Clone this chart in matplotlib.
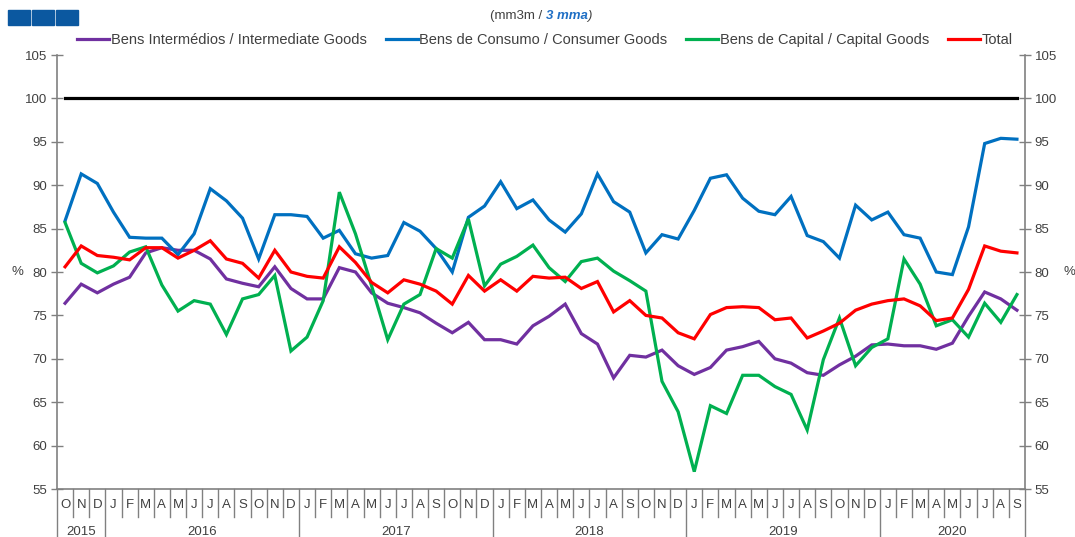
import matplotlib
matplotlib.use('Agg')
import matplotlib.pyplot as plt
from matplotlib.patches import Rectangle
from matplotlib.transforms import blended_transform_factory
import numpy as np

# ---------------- data ----------------
months = (['O', 'N', 'D']
          + ['J', 'F', 'M', 'A', 'M', 'J', 'J', 'A', 'S', 'O', 'N', 'D'] * 4
          + ['J', 'F', 'M', 'A', 'M', 'J', 'J', 'A', 'S'])
years = ['2015', '2016', '2017', '2018', '2019', '2020']
year_counts = [3, 12, 12, 12, 12, 9]

intermediate = [76.4, 78.6, 77.6, 78.6, 79.4, 82.2, 82.8, 82.5, 82.5, 81.5, 79.2, 78.7,
                78.3, 80.6, 78.1, 76.9, 76.9, 80.5,
                80.0, 77.6, 76.4, 75.9, 75.3, 74.1, 73.0, 74.2, 72.2, 72.2, 71.7, 73.8,
                74.9, 76.3, 72.9, 71.7, 67.8, 70.4,
                70.2, 71.0, 69.2, 68.2, 69.0, 71.0, 71.4, 72.0, 70.0, 69.5, 68.4, 68.1,
                69.3, 70.3, 71.6, 71.7, 71.5, 71.5, 71.1, 71.8, 74.9, 77.7, 76.9, 75.6]
consumer = [85.9, 91.3, 90.2, 86.9, 84.0, 83.9, 83.9, 82.0, 84.4, 89.6, 88.2, 86.2,
            81.5, 86.6, 86.6, 86.4, 83.9, 84.8,
            82.1, 81.6, 81.9, 85.7, 84.7, 82.7, 80.0, 86.3, 87.6, 90.4, 87.3, 88.3,
            86.0, 84.6, 86.7, 91.3, 88.1, 86.9,
            82.2, 84.3, 83.8, 87.1, 90.8, 91.2, 88.5, 87.0, 86.6, 88.7, 84.2, 83.5,
            81.6, 87.7, 86.0, 86.9, 84.3, 83.9, 80.0, 79.7, 85.2, 94.8, 95.4, 95.3]
capital = [85.7, 81.0, 79.9, 80.7, 82.3, 82.9, 78.5, 75.5, 76.7, 76.3, 72.8, 76.9,
           77.4, 79.6, 70.9, 72.5, 76.7, 89.2,
           84.4, 78.4, 72.2, 76.3, 77.4, 82.7, 81.6, 86.1, 78.4, 80.9, 81.8, 83.1,
           80.5, 78.9, 81.2, 81.6, 80.1, 79.0,
           77.8, 67.4, 63.9, 57.0, 64.6, 63.7, 68.1, 68.1, 66.8, 65.9, 61.8, 69.9,
           74.7, 69.2, 71.3, 72.3, 81.5, 78.6, 73.8, 74.5, 72.5, 76.4, 74.2, 77.4]
total = [80.6, 83.0, 81.9, 81.7, 81.4, 82.8, 82.8, 81.6, 82.5, 83.6, 81.5, 81.0,
         79.3, 82.5, 80.0, 79.5, 79.3, 82.9,
         81.1, 78.8, 77.6, 79.1, 78.6, 77.8, 76.3, 79.6, 77.8, 79.1, 77.8, 79.5,
         79.3, 79.4, 78.1, 78.9, 75.4, 76.7,
         75.0, 74.7, 73.0, 72.3, 75.1, 75.9, 76.0, 75.9, 74.5, 74.7, 72.4, 73.2,
         74.1, 75.6, 76.3, 76.7, 76.9, 76.1, 74.4, 74.7, 78.0, 83.0, 82.4, 82.2]
reference_level = 100

series_labels = ['Bens Intermédios / Intermediate Goods',
                 'Bens de Consumo / Consumer Goods',
                 'Bens de Capital / Capital Goods',
                 'Total']
series_colors = ['#7030A0', '#0070C0', '#00B050', '#FF0000']
yticks = list(range(55, 106, 5))

# ---------------- figure ----------------
plt.rcParams['font.family'] = ['Liberation Sans', 'DejaVu Sans']
W, H = 1075, 537
fig = plt.figure(figsize=(W / 100, H / 100), dpi=100)
ax = fig.add_axes([57 / W, 48 / H, 968 / W, 434 / H])

x = np.arange(len(months))
handles = []
for data, lab, col in zip([intermediate, consumer, capital, total], series_labels, series_colors):
    h, = ax.plot(x, data, color=col, lw=2.3, label=lab, solid_joinstyle='miter')
    handles.append(h)
ax.plot([x[0], x[-1]], [reference_level, reference_level], color='black', lw=2.3, zorder=1)

ax.set_xlim(-0.5, len(months) - 0.5)
ax.set_ylim(55, 105)
ax.set_yticks(yticks)
ax.tick_params(axis='y', direction='inout', length=8, width=1, color='#808080',
               labelsize=9.5, labelcolor='#404040', left=True, right=True,
               labelleft=True, labelright=True, pad=3)
ax.set_xticks([])
ax.spines['top'].set_visible(False)
for s in ['left', 'right', 'bottom']:
    ax.spines[s].set_color('#808080')
    ax.spines[s].set_linewidth(1.2)

ax.text(-0.041, 80, '%', transform=blended_transform_factory(ax.transAxes, ax.transData),
        ha='center', va='center', fontsize=9.5, color='#404040')
ax.text(1.046, 80, '%', transform=blended_transform_factory(ax.transAxes, ax.transData),
        ha='center', va='center', fontsize=9.5, color='#404040')

# month / year category axis
trans = blended_transform_factory(ax.transData, ax.transAxes)
year_bounds = list(np.cumsum([0] + year_counts))
for b in range(len(months) + 1):
    y_end = -0.111 if b in year_bounds else -0.0645
    ax.plot([b - 0.5, b - 0.5], [0, y_end], transform=trans, color='#808080',
            lw=1.0, clip_on=False)
for i, m in enumerate(months):
    ax.text(i, -0.036, m, transform=trans, ha='center', va='center',
            fontsize=9.5, color='#404040')
for yr, start, cnt in zip(years, year_bounds[:-1], year_counts):
    ax.text(start + cnt / 2 - 0.5, -0.099, yr, transform=trans, ha='center',
            va='center', fontsize=9.5, color='#404040', clip_on=False)

# legend
fig.legend(handles=handles, loc='center', bbox_to_anchor=(0.507, 1 - 40 / H), ncol=4,
           frameon=False, fontsize=10.5, handlelength=2.2, handletextpad=0.1,
           columnspacing=1.3, labelcolor='#404040')

# subtitle
t1 = fig.text(490 / W, 1 - 16 / H, '(mm3m / ', ha='left', va='center',
              fontsize=9.5, color='#404040')
a1 = plt.annotate('3 mma', xy=(1, 0), xycoords=t1, va='bottom', ha='left',
                  fontsize=9.5, color='#1F6FC5', style='italic', weight='bold',
                  annotation_clip=False)
a2 = plt.annotate(')', xy=(1, 0), xycoords=a1, va='bottom', ha='left',
                  fontsize=9.5, color='#404040', style='italic', annotation_clip=False)

# header blocks
for k in range(3):
    fig.patches.append(Rectangle(((8 + 24 * k) / W, 1 - 25 / H), 22 / W, 15 / H,
                                 transform=fig.transFigure, color='#0B58A0', zorder=5))

fig.savefig('out.png', dpi=100)
